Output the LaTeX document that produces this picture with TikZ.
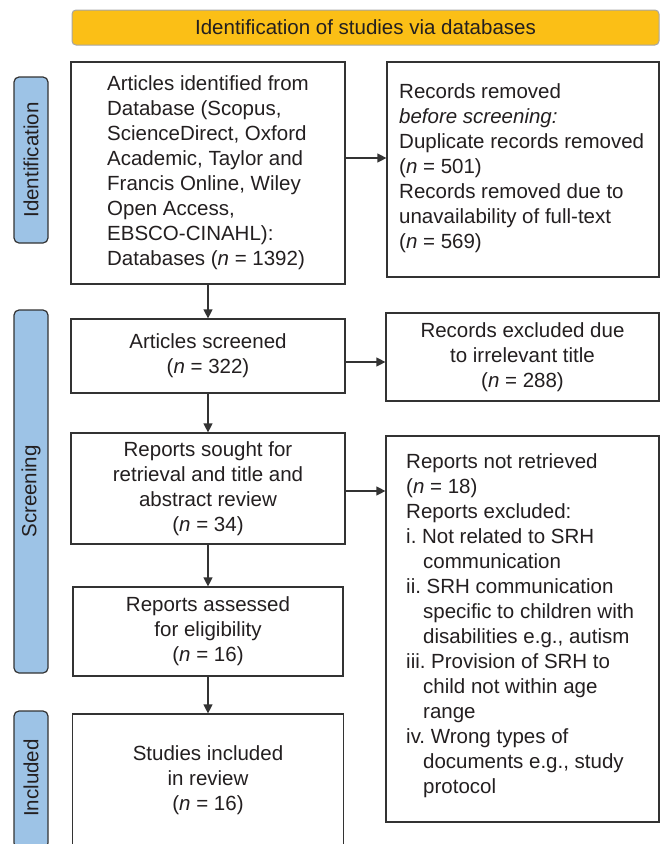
\documentclass[tikz,border=0pt]{standalone}
\usepackage{fontspec}
\setmainfont{Liberation Sans}
\usetikzlibrary{arrows.meta}
\definecolor{bannerfill}{HTML}{FBBF16}
\definecolor{bannerline}{HTML}{A6A6A6}
\definecolor{sidefill}{HTML}{9DC3E6}
\definecolor{boxline}{HTML}{333333}
\definecolor{txt}{HTML}{231F20}
\frenchspacing
\tikzset{
  basefont/.style={font=\fontsize{20.5pt}{25pt}\selectfont, text=txt},
  box/.style={draw=boxline, line width=1.2pt, fill=white, rectangle, inner sep=0pt, align=center, basefont},
  txtblock/.style={inner sep=0pt, align=left, basefont, anchor=west},
  banner/.style={draw=bannerline, line width=1pt, fill=bannerfill, rounded corners=4pt, inner sep=0pt, basefont},
  sidebar/.style={draw=boxline, line width=1.2pt, fill=sidefill, rounded corners=5pt, inner sep=0pt},
  sidelabel/.style={rotate=90, inner sep=0pt, basefont},
  arr/.style={draw=boxline, line width=1.2pt, -{Triangle[length=9pt,width=9pt]}}
}
\begin{document}
\begin{tikzpicture}[x=1pt,y=-1pt]
\useasboundingbox (0,0) rectangle (660,844);
\clip (0,0) rectangle (660,844);

% banner
\node[banner, minimum width=587pt, minimum height=35pt] (ban) at (365.5,27.5) {Identification of studies via databases};

% sidebars
\node[sidebar, minimum width=34pt, minimum height=166pt] (sid1) at (31,160) {};
\node[sidelabel] (lab1) at (sid1.center) {Identification};
\node[sidebar, minimum width=34pt, minimum height=363pt] (sid2) at (31,491.5) {};
\node[sidelabel] (lab2) at (sid2.center) {Screening};
\node[sidebar, minimum width=34pt, minimum height=137pt] (sid3) at (31,779.5) {};
\node[sidelabel] (lab3) at (31,778) {Included};

% left column
\node[box, align=left, minimum width=274pt, minimum height=222pt] (b1) at (208,173)
  {Articles identified from\\Database (Scopus,\\ScienceDirect, Oxford\\Academic, Taylor and\\Francis Online, Wiley\\Open Access,\\EBSCO-CINAHL):\\Databases (\textit{n} = 1392)};
\node[box, minimum width=274pt, minimum height=74pt] (b3) at (208,356)
  {Articles screened\\(\textit{n} = 322)};
\node[box, minimum width=274pt, minimum height=111pt] (b5) at (208,488.5)
  {Reports sought for\\retrieval and title and\\abstract review\\(\textit{n} = 34)};
\node[box, minimum width=270pt, minimum height=89pt] (b7) at (208,631.5)
  {Reports assessed\\for eligibility\\(\textit{n} = 16)};
\node[box, minimum width=271pt, minimum height=132pt] (b8) at (208,780)
  {Studies included\\in review\\(\textit{n} = 16)};

% right column
\node[box, minimum width=272pt, minimum height=215pt] (b2) at (523,169.5) {};
\node[txtblock] (t2) at (399,168)
  {Records removed\\\textit{before screening:}\\Duplicate records removed\\(\textit{n} = 501)\\Records removed due to\\unavailability of full-text\\(\textit{n} = 569)};
\node[box, minimum width=273pt, minimum height=88pt] (b4) at (522.5,357)
  {Records excluded due\\to irrelevant title\\(\textit{n} = 288)};
\node[box, minimum width=273pt, minimum height=386pt] (b6) at (522.5,629) {};
\node[txtblock] (t6) at (406,626)
  {Reports not retrieved\\(\textit{n} = 18)\\Reports excluded:\\i. Not related to SRH\\\hspace*{17pt}communication\\ii. SRH communication\\\hspace*{17pt}specific to children with\\\hspace*{17pt}disabilities e.g., autism\\iii. Provision of SRH to\\\hspace*{17pt}child not within age\\\hspace*{17pt}range\\iv. Wrong types of\\\hspace*{17pt}documents e.g., study\\\hspace*{17pt}protocol};

% connectors
\coordinate (r1) at (0,158);
\coordinate (r2) at (0,362);
\coordinate (r3) at (0,491);
\draw[arr] (b1.east |- r1) -- (b2.west |- r1);
\draw[arr] (b3.east |- r2) -- (b4.west |- r2);
\draw[arr] (b5.east |- r3) -- (b6.west |- r3);
\draw[arr] (b1.south) -- (b3.north);
\draw[arr] (b3.south) -- (b5.north);
\draw[arr] (b5.south) -- (b7.north);
\draw[arr] (b7.south) -- (b8.north);
\end{tikzpicture}
\end{document}
